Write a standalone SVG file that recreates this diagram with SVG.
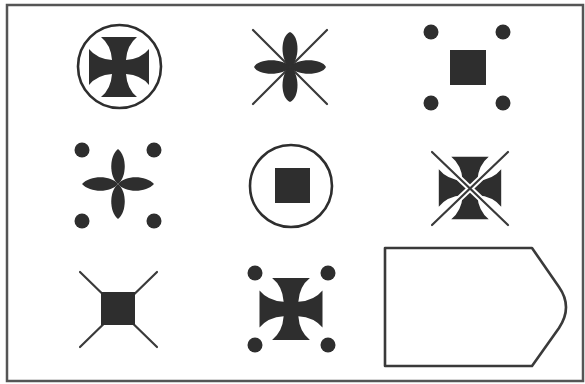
<svg xmlns="http://www.w3.org/2000/svg" xmlns:xlink="http://www.w3.org/1999/xlink" width="585" height="384" viewBox="0 0 585 384">
<style>
.fill{fill:#2e2e2e;stroke:none}
.ring{fill:none;stroke:#2e2e2e;stroke-width:2.6}
.ln{stroke:#3a3a3a;stroke-width:2.2;stroke-linecap:round;fill:none}
.halo{stroke:#fff;stroke-width:6;stroke-linecap:butt;fill:none}
.frame{fill:#fff;stroke:#555;stroke-width:2.5}
.shape{fill:#fff;stroke:#3a3a3a;stroke-width:2.6;stroke-linejoin:round}
</style>
<defs>
<path id="cross" class="fill" d="M-7,-7 Q-8,-22 -18,-30 H18 Q8,-22 7,-7 Q22,-8 30,-18 V18 Q22,8 7,7 Q8,22 18,30 H-18 Q-8,22 -7,7 Q-22,8 -30,18 V-18 Q-22,-8 -7,-7 Z"/>
<g id="petals" class="fill">
<path d="M0,0 C9,-7 9,-28 0,-35 C-9,-28 -9,-7 0,0 Z"/>
<path d="M0,0 C9,7 9,28 0,35 C-9,28 -9,7 0,0 Z"/>
<path d="M0,0 C7,9 28,9 36,0 C28,-9 7,-9 0,0 Z"/>
<path d="M0,0 C-7,9 -28,9 -36,0 C-28,-9 -7,-9 0,0 Z"/>
</g>
<g id="petals2" class="fill">
<path d="M0,0 C10,-6 10,-31 0,-35 C-10,-31 -10,-6 0,0 Z"/>
<path d="M0,0 C10,6 10,31 0,35 C-10,31 -10,6 0,0 Z"/>
<path d="M0,0 C6,9 32,9 36,0 C32,-9 6,-9 0,0 Z"/>
<path d="M0,0 C-6,9 -32,9 -36,0 C-32,-9 -6,-9 0,0 Z"/>
</g>
</defs>
<rect class="frame" x="7" y="5" width="576" height="376"/>
<g id="n1">
<circle class="ring" cx="119.5" cy="66.5" r="41.5"/>
<use xlink:href="#cross" transform="translate(119,67)"/>
</g>
<g id="n2">
<line class="ln" x1="253" y1="30" x2="327" y2="104"/>
<line class="ln" x1="327" y1="30" x2="253" y2="104"/>
<use xlink:href="#petals2" transform="translate(290,67)"/>
</g>
<g id="n3">
<rect class="fill" x="450" y="50" width="36" height="35"/>
<circle class="fill" cx="431" cy="32" r="7.5"/>
<circle class="fill" cx="503" cy="32" r="7.5"/>
<circle class="fill" cx="431" cy="103" r="7.5"/>
<circle class="fill" cx="503" cy="103" r="7.5"/>
</g>
<g id="n4">
<use xlink:href="#petals" transform="translate(118,184)"/>
<circle class="fill" cx="82" cy="150" r="7.5"/>
<circle class="fill" cx="154" cy="150" r="7.5"/>
<circle class="fill" cx="82" cy="221" r="7.5"/>
<circle class="fill" cx="154" cy="221" r="7.5"/>
</g>
<g id="n5">
<circle class="ring" cx="291" cy="186" r="41"/>
<rect class="fill" x="275" y="168" width="35" height="35"/>
</g>
<g id="n6">
<use xlink:href="#cross" transform="translate(470,188) scale(1.04)"/>
<line class="halo" x1="440" y1="160" x2="500" y2="217"/>
<line class="halo" x1="500" y1="160" x2="440" y2="217"/>
<line class="ln" x1="432" y1="152" x2="508" y2="225"/>
<line class="ln" x1="508" y1="152" x2="432" y2="225"/>
</g>
<g id="n7">
<line class="ln" x1="80" y1="272" x2="157" y2="347"/>
<line class="ln" x1="157" y1="272" x2="80" y2="347"/>
<rect class="fill" x="101" y="292" width="34" height="33"/>
</g>
<g id="n8">
<use xlink:href="#cross" transform="translate(291,309) scale(1.05,1.03)"/>
<circle class="fill" cx="255" cy="273" r="7.5"/>
<circle class="fill" cx="328" cy="273" r="7.5"/>
<circle class="fill" cx="255" cy="345" r="7.5"/>
<circle class="fill" cx="328" cy="345" r="7.5"/>
</g>
<g id="n9">
<path class="shape" d="M385,248 H532 L559,287 Q573,307 559,328 L532,366 H385 Z"/>
</g>
<g id="connectors"></g>
</svg>
